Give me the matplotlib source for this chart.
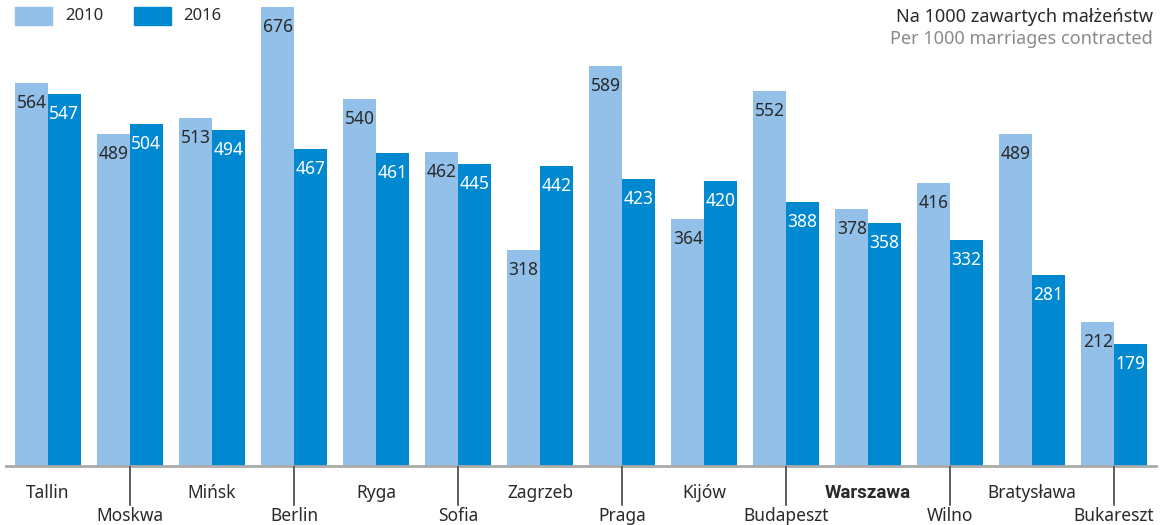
import matplotlib
matplotlib.use("Agg")
import matplotlib.pyplot as plt
import numpy as np

cities = ["Tallin", "Moskwa", "Mińsk", "Berlin", "Ryga", "Sofia", "Zagrzeb",
          "Praga", "Kijów", "Budapeszt", "Warszawa", "Wilno", "Bratysława", "Bukareszt"]
v2010 = [564, 489, 513, 676, 540, 462, 318, 589, 364, 552, 378, 416, 489, 212]
v2016 = [547, 504, 494, 467, 461, 445, 442, 423, 420, 388, 358, 332, 281, 179]
series_labels = ["2010", "2016"]

LIGHT = "#93C0E8"
DARK = "#0088D1"
TXT = "#2a2a2a"

plt.rcParams['font.family'] = ['Noto Sans', 'DejaVu Sans']

W, H = 1162, 525
fig = plt.figure(figsize=(W / 100, H / 100), dpi=100)
ax = fig.add_axes([6 / W, 59 / H, 1150 / W, 466 / H])
x = np.arange(len(cities))
bw = 0.40
ax.bar(x - bw / 2, v2010, bw, color=LIGHT, edgecolor="none")
ax.bar(x + bw / 2, v2016, bw, color=DARK, edgecolor="none")
ax.set_xlim(-0.512, 13.51)
ax.set_ylim(0, 686)

VF = 12.5
for i in range(len(cities)):
    ax.annotate(str(v2010[i]), (x[i] - bw / 2, v2010[i]), xytext=(0, -20),
                textcoords="offset pixels", ha="center", va="center",
                fontsize=VF, color=TXT)
    ax.annotate(str(v2016[i]), (x[i] + bw / 2, v2016[i]), xytext=(0, -20),
                textcoords="offset pixels", ha="center", va="center",
                fontsize=VF, color="white")

for s in ["top", "right", "left"]:
    ax.spines[s].set_visible(False)
ax.spines["bottom"].set_color("#aaaaaa")
ax.spines["bottom"].set_linewidth(2)
ax.set_yticks([])
ax.set_xticks([])

CF = 12.5
for i, c in enumerate(cities):
    bold = c == "Warszawa"
    kw = dict(fontweight="bold", family=["Roboto", "DejaVu Sans"], fontsize=13.5) if bold \
        else dict(fontsize=CF)
    off = -27 if i % 2 == 0 else -50
    ax.annotate(c, (x[i], 0), xytext=(0, off), textcoords="offset pixels",
                ha="center", va="center", color=TXT,
                annotation_clip=False, **kw)

# tick lines for lower labels
for i in range(len(cities)):
    if i % 2 == 1:
        px = ax.transData.transform((x[i], 0))[0]
        fig.add_artist(plt.Line2D([px / W, px / W], [(H - 467) / H, (H - 505) / H],
                                  transform=fig.transFigure, color="#444444", lw=1.2))

# legend
fig.add_artist(plt.Rectangle((15 / W, (H - 25) / H), 37 / W, 18 / H,
                             transform=fig.transFigure, color=LIGHT))
fig.text(65 / W, (H - 16) / H, series_labels[0], fontsize=12, color=TXT, va="center")
fig.add_artist(plt.Rectangle((134 / W, (H - 25) / H), 37 / W, 18 / H,
                             transform=fig.transFigure, color=DARK))
fig.text(183 / W, (H - 16) / H, series_labels[1], fontsize=12, color=TXT, va="center")

fig.text(1153 / W, (H - 17) / H, "Na 1000 zawartych małżeństw", fontsize=13,
         color=TXT, ha="right", va="center")
fig.text(1153 / W, (H - 39) / H, "Per 1000 marriages contracted", fontsize=13,
         color="#8a8a8a", ha="right", va="center")

fig.savefig("out.png", dpi=100)
